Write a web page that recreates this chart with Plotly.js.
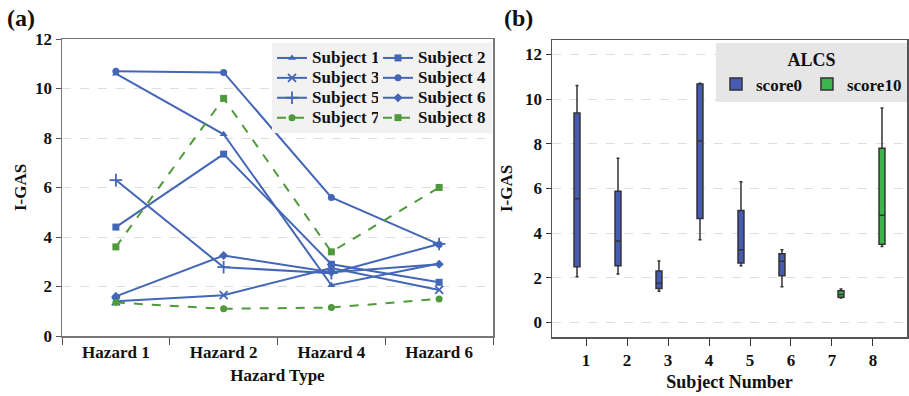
<!DOCTYPE html>
<html>
<head>
<meta charset="utf-8">
<script src="https://cdn.plot.ly/plotly-3.0.1.min.js"></script>
<style>html,body{margin:0;padding:0;background:#fff;}#chart{width:909px;height:396px;}</style>
</head>
<body>
<div id="chart"></div>
<script>
// ---- data ----
const hazards = ['Hazard 1', 'Hazard 2', 'Hazard 4', 'Hazard 6'];
const subjectNames = ['Subject 1','Subject 2','Subject 3','Subject 4','Subject 5','Subject 6','Subject 7','Subject 8'];
const subject1 = [10.6, 8.15, 2.05, 2.93];
const subject2 = [4.4, 7.35, 2.9, 2.17];
const subject3 = [1.4, 1.65, 2.75, 1.86];
const subject4 = [10.7, 10.65, 5.6, 3.7];
const subject5 = [6.3, 2.78, 2.54, 3.72];
const subject6 = [1.6, 3.25, 2.58, 2.9];
const subject7 = [1.35, 1.1, 1.15, 1.5];
const subject8 = [3.6, 9.6, 3.4, 6.0];
const subjectNumbers = [1, 2, 3, 4, 5, 6, 7, 8];
const alcsGroup = ['score0','score0','score0','score0','score0','score0','score10','score10'];

const allSubjects = [subject1, subject2, subject3, subject4, subject5, subject6, subject7, subject8];

// ---- styles ----
const BLUE = '#4466b6';
const GREEN = '#4f9a3a';
const BOXBLUE = '#465cb2';
const BOXGREEN = '#3cb54b';
const FONT = '"Liberation Serif", "Times New Roman", serif';
const symbols = ['triangle-up','square','x-thin-open','circle','cross-thin-open','diamond','circle','square'];
const sizes = [7, 7, 8, 7, 9, 7, 7, 7];

const traces = [];
allSubjects.forEach((vals, i) => {
  const isGreen = alcsGroup[i] === 'score10';
  const col = isGreen ? GREEN : BLUE;
  traces.push({
    type: 'scatter', mode: 'lines+markers',
    x: hazards, y: vals,
    name: '<span style="font-size:17px">' + subjectNames[i] + '</span>',
    xaxis: 'x', yaxis: 'y', legend: (i % 2 === 0) ? 'legend' : 'legend3',
    line: {color: col, width: 2, dash: isGreen ? 'dash' : 'solid'},
    marker: {symbol: symbols[i], size: sizes[i], color: col, line: {color: col, width: (symbols[i].indexOf('thin') >= 0) ? 1.8 : 0}}
  });
});

// box plots built from the same subject data
['score0','score10'].forEach(g => {
  const xs = [], ys = [];
  allSubjects.forEach((vals, i) => {
    if (alcsGroup[i] === g) vals.forEach(v => { xs.push(subjectNumbers[i]); ys.push(v); });
  });
  traces.push({
    type: 'box', x: xs, y: ys, name: g, legend: 'legend2',
    xaxis: 'x2', yaxis: 'y2', boxpoints: false, quartilemethod: 'exclusive',
    fillcolor: g === 'score0' ? BOXBLUE : BOXGREEN,
    line: {color: '#333333', width: 1.5}, whiskerwidth: 0.5
  });
});

const L = 62, R = 2, T = 39, B = 59, W = 909, H = 396;
const pw = W - L - R, ph = H - T - B;
const px = v => (v - L) / pw;
const py = v => (H - B - v) / ph;

const tickfont = {family: FONT, size: 17, color: '#111', weight: 'bold'};
const titlefont = {family: FONT, size: 17, color: '#111', weight: 'bold'};
const legfont = {family: FONT, size: 17, color: '#111', weight: 'bold'};
const legfontCompact = {family: FONT, size: 13, color: '#111', weight: 'bold'};

const layout = {
  width: W, height: H,
  margin: {l: L, r: R, t: T, b: B, autoexpand: false},
  paper_bgcolor: '#fff', plot_bgcolor: '#fff',
  font: {family: FONT, size: 17, color: '#111', weight: 'bold'},
  showlegend: true,
  boxmode: 'group', boxgap: 0.12, boxgroupgap: 0.67,
  xaxis: {
    domain: [0, px(493)], type: 'category', range: [-0.5, 3.5],
    tickson: 'boundaries', ticks: 'outside', ticklen: 7, tickcolor: '#555',
    showline: true, linecolor: '#777', linewidth: 1.5, mirror: true,
    showgrid: false, tickfont: tickfont, automargin: false,
    title: {text: 'Hazard Type', font: titlefont, standoff: 8}
  },
  yaxis: {
    domain: [py(336), 1], range: [0, 12], dtick: 2,
    ticks: 'outside', ticklen: 5, tickcolor: '#555',
    showline: true, linecolor: '#777', linewidth: 1.5, mirror: true,
    showgrid: true, gridcolor: '#dedede', griddash: 'dash', gridwidth: 1,
    zeroline: false, tickfont: tickfont, automargin: false,
    title: {text: 'I-GAS', font: titlefont, standoff: 4}
  },
  xaxis2: {
    domain: [px(552), px(907)], anchor: 'y2', range: [0.17, 8.83],
    tickvals: subjectNumbers, ticktext: subjectNumbers.map(String),
    ticks: 'outside', ticklen: 7, tickcolor: '#333',
    showline: true, linecolor: '#555', linewidth: 1.5, mirror: true,
    showgrid: false, zeroline: false, tickfont: tickfont, automargin: false,
    title: {text: 'Subject Number', font: {family: FONT, size: 18, color: '#111', weight: 'bold'}, standoff: 6}
  },
  yaxis2: {
    domain: [0, py(40)], anchor: 'x2', range: [-0.65, 12.64], dtick: 2,
    ticks: 'outside', ticklen: 5, tickcolor: '#333',
    showline: true, linecolor: '#555', linewidth: 1.5, mirror: true,
    showgrid: true, gridcolor: '#dedede', griddash: 'dash', gridwidth: 1,
    zeroline: false, tickfont: tickfont, automargin: false,
    title: {text: 'I-GAS', font: titlefont, standoff: 8}
  },
  legend: {
    x: px(272), y: py(43), xanchor: 'left', yanchor: 'top',
    orientation: 'v', bgcolor: '#f2f2f2', borderwidth: 0, itemwidth: 30,
    tracegroupgap: 0, font: legfontCompact
  },
  legend3: {
    x: px(378), y: py(43), xanchor: 'left', yanchor: 'top',
    orientation: 'v', bgcolor: '#f2f2f2', borderwidth: 0, itemwidth: 30,
    tracegroupgap: 0, font: legfontCompact
  },
  legend2: {
    x: px(716), y: py(43), xanchor: 'left', yanchor: 'top',
    orientation: 'h', bgcolor: '#e6e6e6', borderwidth: 0, itemwidth: 30,
    title: {text: 'ALCS', side: 'top center', font: {family: FONT, size: 18, color: '#111', weight: 'bold'}},
    font: legfont
  },
  annotations: [
    {text: '(a)', xref: 'paper', yref: 'paper', x: px(5), y: py(3), xanchor: 'left', yanchor: 'top', showarrow: false,
     font: {family: FONT, size: 24, color: '#111', weight: 'bold'}},
    {text: '(b)', xref: 'paper', yref: 'paper', x: px(502), y: py(3), xanchor: 'left', yanchor: 'top', showarrow: false,
     font: {family: FONT, size: 24, color: '#111', weight: 'bold'}}
  ]
};

Plotly.newPlot('chart', traces, layout, {displayModeBar: false, staticPlot: true});
</script>
</body>
</html>
